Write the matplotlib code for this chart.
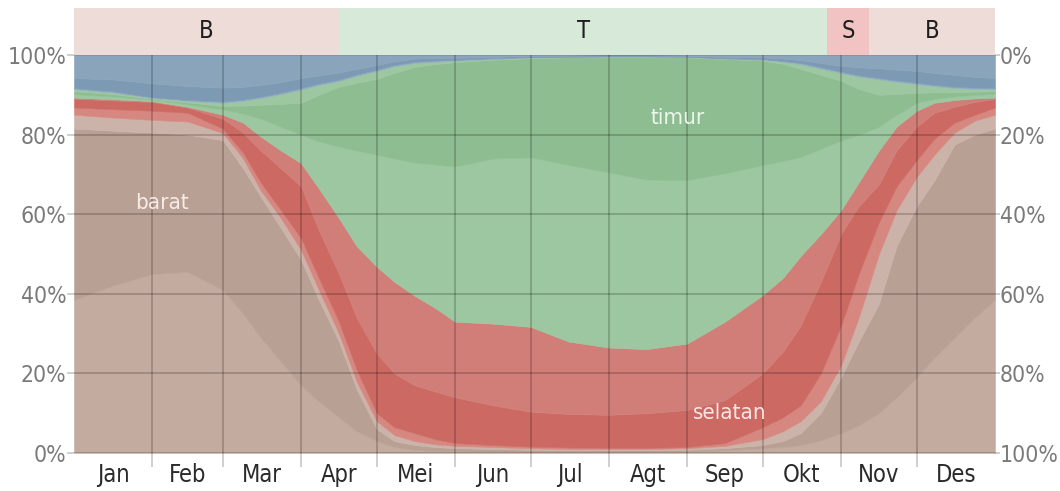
import numpy as np
import matplotlib.pyplot as plt
from matplotlib import font_manager

# day of year for each sample
days = [0, 15, 31, 45, 59, 67, 74, 82, 90, 97, 105, 112, 120, 127, 135, 143, 151,
        166, 181, 196, 212, 227, 243, 258,
        273, 281, 288, 296, 304, 311, 319, 326, 334, 341, 349, 357, 365]

# cumulative % of hours (top edge of each band, stacked bottom -> top)
nw_low_top = [38.5, 42, 45, 45.5, 41, 35, 29, 23, 17, 13, 9, 5.5, 3, 1.5, 0.8, 0.5, 0.4,
              0.3, 0.3, 0.3, 0.3, 0.3, 0.4, 0.7,
              1.2, 1.5, 2, 3.2, 5, 7, 10, 14, 19, 24, 29, 34, 38.5]
w_top = [81.5, 81, 80.5, 80, 78.6, 71.5, 64.4, 56.5, 48.5, 38.5, 28, 16, 6, 3, 2, 1.5, 1.2,
         1, 0.8, 0.7, 0.7, 0.7, 0.8, 1.2,
         2, 3, 5, 10, 19, 28, 37.5, 52, 62, 68.5, 77.5, 80, 81.5]
sw_w_top = [85, 84.3, 83.7, 83.3, 80.4, 74, 66, 59, 51, 41, 30, 18, 8, 4.5, 3, 2.2, 1.8,
            1.5, 1.2, 1, 1, 1, 1.2, 1.8,
            3.5, 5.5, 8, 13, 22, 34, 50, 61, 69.4, 75, 80.5, 83.5, 85]
sw_s_top = [86.8, 86.4, 86, 85.5, 81.5, 75.5, 68, 61, 54, 44, 33, 21, 10, 6.5, 5, 3.5, 2.5,
            2, 1.6, 1.4, 1.3, 1.3, 1.5, 2.5,
            6.5, 9, 12, 20, 32, 45, 58, 67, 73.6, 79, 83, 85, 86.8]
s_top = [89, 88.6, 88.2, 86.8, 84, 80.5, 76, 71.5, 67, 56, 45, 34, 25, 20, 17, 15.5, 14,
         12, 10.4, 9.8, 9.6, 10, 10.8, 13.3,
         20, 25.5, 32, 43, 55, 62, 67.5, 76, 82, 85.5, 87, 88.2, 89]
se_s_top = [89.3, 88.9, 88.4, 87, 85, 83, 79.5, 76, 72.8, 66.5, 59, 52, 46.8, 43, 39.5, 36.5, 33,
            32.5, 31.7, 28, 26.5, 26.1, 27.5, 33,
            39.7, 44, 49.5, 55, 61, 68, 76, 82, 86, 88, 88.7, 89.1, 89.3]
se_e_top = [90.2, 89.6, 88.8, 87.6, 86.3, 85.3, 84, 82, 80, 78.3, 77, 76, 75, 74, 73, 72.5, 72,
            74, 74.3, 72.4, 70.5, 68.7, 68.6, 70.3,
            72.4, 73.4, 74.4, 76.5, 78.5, 80, 82, 85, 88, 89, 89.6, 90, 90.2]
e_top = [90.9, 90.2, 89, 88.1, 87.2, 87.3, 87.5, 87.7, 88, 90, 92, 93, 94, 95.5, 97, 97.7, 98.2,
         98.8, 99.2, 99.4, 99.5, 99.5, 99.4, 99,
         98.6, 97.8, 96.5, 95, 93.5, 91.5, 90, 90.2, 90.5, 90.6, 90.6, 90.8, 90.9]
ne_e_top = [91.4, 90.6, 89.2, 88.5, 88, 88.5, 89.2, 90.2, 91.3, 92.5, 93.5, 94.8, 96, 97.2, 98, 98.3, 98.6,
            99, 99.4, 99.5, 99.6, 99.6, 99.5, 99.1,
            98.8, 98.3, 97.7, 96.6, 95.5, 94.6, 93.9, 93.3, 92.7, 92.2, 91.7, 91.5, 91.4]
ne_n_top = [91.7, 90.9, 89.4, 88.7, 88.3, 88.8, 89.5, 90.5, 91.7, 92.8, 93.8, 95.1, 96.3, 97.5, 98.3, 98.6, 98.8,
            99.2, 99.5, 99.6, 99.7, 99.7, 99.6, 99.2,
            99, 98.5, 98, 96.9, 95.8, 94.9, 94.2, 93.6, 93, 92.5, 92, 91.8, 91.7]
n_top = [94.2, 93.9, 92.9, 92.2, 91.8, 92, 92.5, 93.2, 94.2, 94.9, 95.6, 96.5, 97.5, 98.4, 99.1, 99.2, 99.3,
         99.5, 99.8, 99.8, 99.9, 99.9, 99.8, 99.5,
         99.4, 99.1, 98.7, 98, 97.3, 96.9, 96.7, 96.3, 96, 95.5, 95, 94.5, 94.2]
nw_up_top = [100] * len(days)

months = ['Jan', 'Feb', 'Mar', 'Apr', 'Mei', 'Jun', 'Jul', 'Agt', 'Sep', 'Okt', 'Nov', 'Des']
month_starts = [0, 31, 59, 90, 120, 151, 181, 212, 243, 273, 304, 334, 365]

season_labels = ['B', 'T', 'S', 'B']
season_edges = [0, 105, 298.5, 315, 365]

names = {f.name for f in font_manager.fontManager.ttflist}
if 'Liberation Sans Narrow' in names:
    FONT = dict(family='Liberation Sans Narrow')
else:
    FONT = dict(family='DejaVu Sans', stretch='condensed')

W, H = 1060, 491
fig = plt.figure(figsize=(W / 100, H / 100), dpi=100)
fig.patch.set_facecolor('white')

ax = fig.add_axes([74 / W, 38 / H, 921 / W, 398 / H])
ax.set_xlim(0, 365)
ax.set_ylim(0, 100)

bands = [
    (nw_low_top, '#c4aba0'),
    (w_top, '#b9a094'),
    (sw_w_top, '#ccb3a9'),
    (sw_s_top, '#d6877f'),
    (s_top, '#cc6963'),
    (se_s_top, '#d27e78'),
    (se_e_top, '#9cc7a0'),
    (e_top, '#8dbd90'),
    (ne_e_top, '#9cc7a0'),
    (ne_n_top, '#93adc3'),
    (n_top, '#7d9ab4'),
    (nw_up_top, '#89a4bb'),
]
lower = np.zeros(len(days))
for top, color in bands:
    top = np.asarray(top, dtype=float)
    ax.fill_between(days, lower, top, color=color, lw=0.4, ec=color)
    lower = top

for sp in ax.spines.values():
    sp.set_visible(False)

grid_c = (0, 0, 0, 0.22)
ax.set_xticks(month_starts[1:-1])
ax.set_xticks([(a + b) / 2 for a, b in zip(month_starts[:-1], month_starts[1:])], minor=True)
ax.set_xticklabels([])
ax.set_xticklabels(months, minor=True)
ax.tick_params(axis='x', which='major', length=10, width=1.2, color=grid_c)
ax.tick_params(axis='x', which='minor', length=0, pad=7, labelsize=17, labelcolor='#2a2a2a')
for lab in ax.get_xticklabels(minor=True):
    lab.set(**FONT)

yt = [0, 20, 40, 60, 80, 100]
ax.set_yticks(yt)
ax.set_yticklabels([f'{v}%' for v in yt])
ax.tick_params(axis='y', length=5, width=1.2, color=grid_c, pad=0.5,
               labelsize=16.5, labelcolor='#7a7a7a')
for lab in ax.get_yticklabels():
    lab.set(**FONT)
ax.grid(True, which='major', color='black', alpha=0.22, lw=1.2)
ax.set_axisbelow(False)

ax2 = ax.twinx()
ax2.set_ylim(100, 0)
ax2.set_yticks(yt)
ax2.set_yticklabels([f'{v}%' for v in yt])
ax2.tick_params(axis='y', length=3.5, width=1.2, color=grid_c, pad=0,
                labelsize=16.5, labelcolor='#7a7a7a')
for lab in ax2.get_yticklabels():
    lab.set(**FONT)
for sp in ax2.spines.values():
    sp.set_visible(False)

# direction labels
ax.text(35, 62.8, 'barat', color='#f6ebe6', fontsize=16, ha='center', va='center', **FONT)
ax.text(239.4, 84.2, 'timur', color='#edf7ed', fontsize=16, ha='center', va='center', **FONT)
ax.text(260, 10, 'selatan', color='#fbe7e3', fontsize=16, ha='center', va='center', **FONT)

# season strip across the top
season_colors = {'B': '#eddcd8', 'T': '#d7e9d8', 'S': '#f1c3c3'}
bax = fig.add_axes([74 / W, (H - 55) / H, 921 / W, 47 / H])
bax.set_xlim(0, 365)
bax.set_ylim(0, 1)
bax.axis('off')
for lab, a, b in zip(season_labels, season_edges[:-1], season_edges[1:]):
    bax.axvspan(a, b, color=season_colors[lab], lw=0)
    bax.text((a + b) / 2, 0.5, lab, ha='center', va='center', fontsize=17,
             color='#1e1e1e', **FONT)

fig.savefig('out.png', dpi=100)
